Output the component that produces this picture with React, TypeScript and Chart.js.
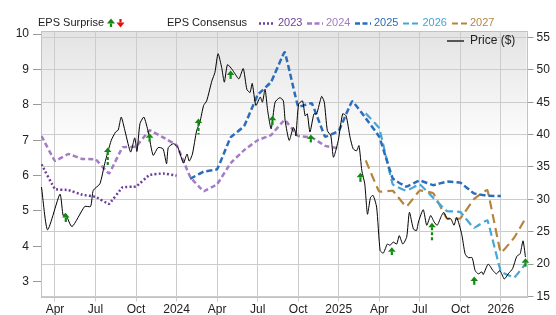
import React, { useEffect, useRef } from "react";
import { Chart, registerables } from "chart.js";

Chart.register(...registerables);

const FONT = '"Liberation Sans", Arial, Helvetica, sans-serif';

// ---- X axis (quarterly ticks) ----
const xTickValues = [3, 6, 9, 12, 15, 18, 21, 24, 27, 30, 33, 36];
const xTickLabels = ["Apr", "Jul", "Oct", "2024", "Apr", "Jul", "Oct", "2025", "Apr", "Jul", "Oct", "2026"];
const leftTicks = [3, 4, 5, 6, 7, 8, 9, 10];
const rightTicks = [15, 20, 25, 30, 35, 40, 45, 50, 55];

// ---- Price ($) ----
const priceDates = [
  "2023-03-01", "2023-03-15", "2023-04-12", "2023-04-19", "2023-04-24", "2023-05-09", "2023-06-07", "2023-06-20",
  "2023-06-26", "2023-07-11", "2023-07-22", "2023-08-06", "2023-08-16", "2023-08-22", "2023-08-29", "2023-09-07",
  "2023-09-19", "2023-09-28", "2023-10-03", "2023-10-10", "2023-10-19", "2023-10-29", "2023-11-09", "2023-11-20",
  "2023-12-01", "2023-12-09", "2023-12-13", "2023-12-25", "2024-01-04", "2024-01-13", "2024-01-17", "2024-01-25",
  "2024-01-30", "2024-02-06", "2024-02-15", "2024-02-22", "2024-03-01", "2024-03-08", "2024-03-20", "2024-03-27",
  "2024-04-03", "2024-04-11", "2024-04-17", "2024-04-24", "2024-05-04", "2024-05-11", "2024-05-20", "2024-05-30",
  "2024-06-07", "2024-06-14", "2024-06-19", "2024-06-27", "2024-07-07", "2024-07-12", "2024-07-18", "2024-07-24",
  "2024-08-01", "2024-08-10", "2024-08-21", "2024-08-29", "2024-09-02", "2024-09-11", "2024-09-20", "2024-09-24",
  "2024-09-26", "2024-10-02", "2024-10-11", "2024-10-17", "2024-10-22", "2024-10-28", "2024-11-06", "2024-11-12",
  "2024-11-23", "2024-11-29", "2024-12-06", "2024-12-14", "2024-12-20", "2024-12-31", "2025-01-10", "2025-01-18",
  "2025-01-27", "2025-02-03", "2025-02-10", "2025-02-15", "2025-02-21", "2025-02-27", "2025-03-05", "2025-03-12",
  "2025-03-18", "2025-03-26", "2025-04-03", "2025-04-10", "2025-04-19", "2025-04-25", "2025-05-02", "2025-05-10",
  "2025-05-16", "2025-05-24", "2025-06-02", "2025-06-08", "2025-06-17", "2025-06-24", "2025-06-28", "2025-07-09",
  "2025-07-17", "2025-07-26", "2025-08-03", "2025-08-10", "2025-08-20", "2025-08-25", "2025-09-02", "2025-09-10",
  "2025-09-17", "2025-09-23", "2025-10-04", "2025-10-12", "2025-10-19", "2025-10-28", "2025-11-04", "2025-11-11",
  "2025-11-19", "2025-11-22", "2025-12-03", "2025-12-14", "2025-12-22", "2025-12-30", "2026-01-09", "2026-01-18",
  "2026-01-28", "2026-02-06", "2026-02-13", "2026-02-19", "2026-02-24",
];
const priceValues = [
  31.9, 25.3, 30.8, 27.5, 27.8, 25.8, 28.9, 28.9,
  31.4, 32.4, 35.5, 39.1, 40.4, 40.7, 42.7, 40.4,
  37.3, 39.5, 37.4, 41.7, 42.7, 40.4, 36.8, 38.0,
  37.8, 35.5, 38.0, 38.6, 38.0, 36.2, 35.6, 37.0,
  35.9, 37.0, 40.6, 41.9, 44.5, 45.2, 48.3, 49.6,
  52.5, 50.4, 48.1, 50.8, 50.1, 49.4, 48.6, 50.2,
  47.0, 46.5, 47.9, 44.5, 45.8, 45.0, 47.0, 43.7,
  40.9, 45.0, 45.7, 45.2, 42.2, 39.1, 41.1, 40.6,
  39.8, 44.7, 45.2, 42.9, 43.2, 40.4, 43.2, 43.2,
  45.9, 45.0, 40.6, 39.8, 36.5, 39.1, 43.2, 42.9,
  39.6, 37.8, 37.5, 38.3, 34.4, 32.4, 27.7, 30.3,
  30.6, 28.8, 22.1, 21.7, 23.1, 22.9, 23.4, 23.1,
  24.4, 23.1, 24.2, 28.0, 25.4, 25.2, 26.5, 28.4,
  26.0, 27.5, 26.5, 26.0, 27.5, 28.0, 27.0, 27.0,
  26.0, 27.2, 24.7, 21.6, 21.0, 21.0, 19.0, 18.5,
  18.8, 18.4, 20.0, 19.0, 18.5, 19.0, 17.7, 18.5,
  19.3, 21.2, 21.6, 23.6, 21.1,
];

// ---- EPS consensus by fiscal year ----
const eps2023Dates = ["2023-03-01", "2023-04-01", "2023-05-01", "2023-06-01", "2023-07-01", "2023-08-01", "2023-09-01", "2023-10-01", "2023-11-01", "2023-12-01", "2024-01-01"];
const eps2023Values = [6.32, 5.62, 5.59, 5.46, 5.40, 5.20, 5.67, 5.69, 6.02, 6.06, 6.00];

const eps2024Dates = [
  "2023-03-01", "2023-04-01", "2023-05-01", "2023-06-01", "2023-07-01", "2023-08-01", "2023-09-01", "2023-10-01",
  "2023-11-01", "2023-12-01", "2024-01-01", "2024-02-01", "2024-03-01", "2024-04-01", "2024-05-01", "2024-06-01",
  "2024-07-01", "2024-08-01", "2024-09-01", "2024-10-01", "2024-11-01", "2024-12-01", "2025-01-01",
];
const eps2024Values = [7.12, 6.42, 6.61, 6.47, 6.46, 6.06, 6.80, 6.82, 7.28, 7.08, 6.86, 5.97, 5.56, 5.76, 6.35, 6.72, 7.0, 7.15, 7.57, 7.12, 7.08, 6.84, 6.77];

const eps2025Dates = [
  "2024-02-01", "2024-03-01", "2024-04-01", "2024-05-01", "2024-06-01", "2024-07-01", "2024-08-01", "2024-09-01",
  "2024-10-01", "2024-11-01", "2024-12-01", "2025-01-01", "2025-02-01", "2025-03-01", "2025-04-01", "2025-05-01",
  "2025-06-01", "2025-07-01", "2025-08-01", "2025-09-01", "2025-10-01", "2025-11-01", "2025-12-01", "2026-01-01",
];
const eps2025Values = [5.91, 6.11, 6.18, 7.08, 7.40, 8.28, 8.65, 9.49, 7.95, 8.05, 7.10, 7.27, 8.10, 7.62, 7.10, 5.92, 5.69, 5.86, 5.73, 5.83, 5.80, 5.50, 5.43, 5.42];

const eps2026Dates = ["2025-03-01", "2025-04-01", "2025-05-01", "2025-06-01", "2025-07-01", "2025-08-01", "2025-09-01", "2025-10-01", "2025-11-01", "2025-12-01", "2026-01-01", "2026-02-01", "2026-02-24"];
const eps2026Values = [7.76, 7.34, 5.75, 5.57, 5.75, 5.37, 5.0, 4.97, 4.52, 4.74, 3.29, 3.12, 3.50];

const eps2027Dates = ["2025-03-01", "2025-04-01", "2025-05-01", "2025-06-01", "2025-07-01", "2025-08-01", "2025-09-01", "2025-10-01", "2025-11-01", "2025-12-01", "2026-01-01", "2026-02-01", "2026-02-24"];
const eps2027Values = [6.43, 5.55, 5.57, 5.12, 5.58, 5.50, 4.79, 4.79, 5.33, 5.59, 3.82, 4.25, 4.79];

// ---- EPS surprises (arrow from base to tip, on price axis) ----
const surpriseDates = ["2023-04-25", "2023-07-29", "2023-11-01", "2024-02-19", "2024-05-01", "2024-08-04", "2024-10-30", "2025-02-18", "2025-04-29", "2025-07-29", "2025-11-02", "2026-02-24"];
const surpriseBase = [26.5, 35.3, 38.9, 40.0, 48.6, 41.5, 38.8, 32.7, 21.4, 23.6, 16.8, 19.6];
const surpriseTip = [27.9, 38.0, 40.2, 42.5, 49.9, 42.9, 40.0, 34.1, 22.6, 26.4, 18.1, 20.9];

const seriesNames = ["2023", "2024", "2025", "2026", "2027"];
const seriesColors = ["#6d3f98", "#a47cc4", "#2a6dbb", "#47a6d8", "#b5853f"];
const seriesDashes = [[2, 2.2], [5, 3], [6, 3], [8, 4], [9, 5]];
const seriesWidths = [2.5, 2.5, 2.5, 2.2, 2.2];

function monthIndex(d: string): number {
  const [y, m, day] = d.split("-").map(Number);
  const dim = new Date(y, m, 0).getDate();
  return (y - 2023) * 12 + (m - 1) + (day - 1) / dim;
}

function pts(dates: string[], vals: number[]) {
  return dates.map((d, i) => ({ x: monthIndex(d), y: vals[i] }));
}

const GREEN = "#118a11";
const RED = "#e01010";

function drawArrow(ctx: CanvasRenderingContext2D, x: number, yTip: number, yBase: number, color: string, up: boolean, hw = 3.8, headH = 4.5) {
  ctx.save();
  ctx.fillStyle = color;
  ctx.strokeStyle = color;
  const dir = up ? 1 : -1;
  ctx.beginPath();
  ctx.moveTo(x, yTip);
  ctx.lineTo(x - hw, yTip + dir * headH);
  ctx.lineTo(x + hw, yTip + dir * headH);
  ctx.closePath();
  ctx.fill();
  const len = Math.abs(yBase - yTip);
  ctx.lineWidth = 2.2;
  if (len > 13) ctx.setLineDash([3, 2]);
  ctx.beginPath();
  ctx.moveTo(x, yTip + dir * headH);
  ctx.lineTo(x, yBase);
  ctx.stroke();
  ctx.restore();
}

const bgPlugin = {
  id: "bg",
  beforeDraw(chart: any) {
    const { ctx, chartArea: a } = chart;
    const g = ctx.createLinearGradient(0, a.top, 0, a.bottom);
    g.addColorStop(0, "#e3e3e3");
    g.addColorStop(0.45, "#ffffff");
    g.addColorStop(1, "#ffffff");
    ctx.save();
    ctx.fillStyle = g;
    ctx.fillRect(a.left, a.top, a.right - a.left, a.bottom - a.top);
    ctx.restore();
  },
};

const framePlugin = {
  id: "frame",
  beforeDatasetsDraw(chart: any) {
    const { ctx, chartArea: a } = chart;
    ctx.save();
    ctx.strokeStyle = "#c2c2c2";
    ctx.lineWidth = 1;
    ctx.strokeRect(Math.round(a.left) + 0.5, Math.round(a.top) + 0.5, Math.round(a.right - a.left), Math.round(a.bottom - a.top));
    ctx.restore();
  },
};

const arrowPlugin = {
  id: "arrows",
  afterDatasetsDraw(chart: any) {
    const { ctx } = chart;
    const xs = chart.scales.x;
    const ys = chart.scales.yR;
    surpriseDates.forEach((d, i) => {
      const x = xs.getPixelForValue(monthIndex(d));
      const tip = ys.getPixelForValue(surpriseTip[i]);
      const base = ys.getPixelForValue(surpriseBase[i]);
      drawArrow(ctx, x, tip, base, GREEN, true);
    });
  },
};

const legendPlugin = {
  id: "customLegend",
  afterDraw(chart: any) {
    const { ctx } = chart;
    ctx.save();
    ctx.textBaseline = "middle";
    ctx.font = `11px ${FONT}`;
    ctx.fillStyle = "#222";
    const y = 23;
    ctx.fillText("EPS Surprise", 38, y);
    drawArrow(ctx, 111, 18.5, 27, GREEN, true, 4, 5);
    drawArrow(ctx, 120.5, 27.5, 19, RED, false, 4, 5);
    ctx.fillStyle = "#222";
    ctx.fillText("EPS Consensus", 167, y);
    const sampleX = [259, 307, 355, 403, 452];
    const textX = [278, 326, 374, 422.5, 470];
    const legendDashes = [[2, 2], [5, 2.5], [5, 2.5], [6, 3], [6, 3]];
    seriesNames.forEach((name, i) => {
      ctx.save();
      ctx.strokeStyle = seriesColors[i];
      ctx.lineWidth = seriesWidths[i];
      ctx.setLineDash(legendDashes[i]);
      ctx.beginPath();
      ctx.moveTo(sampleX[i], y + 0.5);
      ctx.lineTo(sampleX[i] + 16, y + 0.5);
      ctx.stroke();
      ctx.restore();
      ctx.fillStyle = seriesColors[i];
      ctx.fillText(name, textX[i], y);
    });
    // Price legend inside plot
    ctx.strokeStyle = "#555";
    ctx.lineWidth = 2;
    ctx.beginPath();
    ctx.moveTo(447, 41);
    ctx.lineTo(464, 41);
    ctx.stroke();
    ctx.font = `12px ${FONT}`;
    ctx.fillStyle = "#222";
    ctx.fillText("Price ($)", 470, 41);
    ctx.restore();
  },
};

export default function App() {
  const ref = useRef<HTMLCanvasElement>(null);
  useEffect(() => {
    const canvas = ref.current;
    if (!canvas) return;
    const tickFont = { family: FONT, size: 12 };
    const epsSets = [
      pts(eps2023Dates, eps2023Values),
      pts(eps2024Dates, eps2024Values),
      pts(eps2025Dates, eps2025Values),
      pts(eps2026Dates, eps2026Values),
      pts(eps2027Dates, eps2027Values),
    ];
    const chart = new Chart(canvas, {
      type: "line",
      data: {
        datasets: [
          {
            label: "Price ($)",
            data: pts(priceDates, priceValues),
            yAxisID: "yR",
            borderColor: "#000",
            borderWidth: 1,
            pointRadius: 0,
            tension: 0.2,
            fill: false,
          },
          ...epsSets.map((data, i) => ({
            label: seriesNames[i],
            data,
            yAxisID: "yL",
            borderColor: seriesColors[i],
            borderWidth: seriesWidths[i],
            borderDash: seriesDashes[i],
            pointRadius: 0,
            tension: 0.07,
            fill: false,
          })),
        ],
      },
      options: {
        responsive: false,
        animation: false,
        devicePixelRatio: 1,
        layout: { padding: { top: 31, left: 0, right: 0, bottom: 0 } },
        plugins: { legend: { display: false }, tooltip: { enabled: false } },
        scales: {
          x: {
            type: "linear",
            min: 1.964,
            max: 37.9,
            afterBuildTicks: (s: any) => {
              s.ticks = xTickValues.map((v) => ({ value: v }));
            },
            afterFit: (s: any) => {
              s.height = 18.5;
            },
            ticks: {
              autoSkip: false,
              maxRotation: 0,
              padding: 1,
              font: tickFont,
              color: "#222",
              callback: (v: any) => xTickLabels[xTickValues.indexOf(Number(v))] ?? "",
            },
            grid: { color: "#cccccc", tickLength: 5, tickColor: "#cccccc" },
            border: { display: false },
          },
          yL: {
            type: "linear",
            position: "left",
            min: 2.58,
            max: 10.09,
            afterBuildTicks: (s: any) => {
              s.ticks = leftTicks.map((v) => ({ value: v }));
            },
            afterFit: (s: any) => {
              s.width = 41;
            },
            ticks: { padding: 4, font: tickFont, color: "#222" },
            grid: { drawOnChartArea: false, tickLength: 8, color: "#999" },
            border: { display: false },
          },
          yR: {
            type: "linear",
            position: "right",
            min: 15,
            max: 56,
            afterBuildTicks: (s: any) => {
              s.ticks = rightTicks.map((v) => ({ value: v }));
            },
            afterFit: (s: any) => {
              s.width = 29.5;
            },
            ticks: { padding: 3, font: tickFont, color: "#222" },
            grid: { color: "#cccccc", tickLength: 7, tickColor: "#999" },
            border: { display: false },
          },
        },
      } as any,
      plugins: [bgPlugin, framePlugin, arrowPlugin, legendPlugin],
    });
    return () => chart.destroy();
  }, []);
  return (
    <div style={{ position: "fixed", left: 0, top: 0, width: 556, height: 315, background: "#fff" }}>
      <canvas ref={ref} width={556} height={315} style={{ display: "block" }} />
    </div>
  );
}
